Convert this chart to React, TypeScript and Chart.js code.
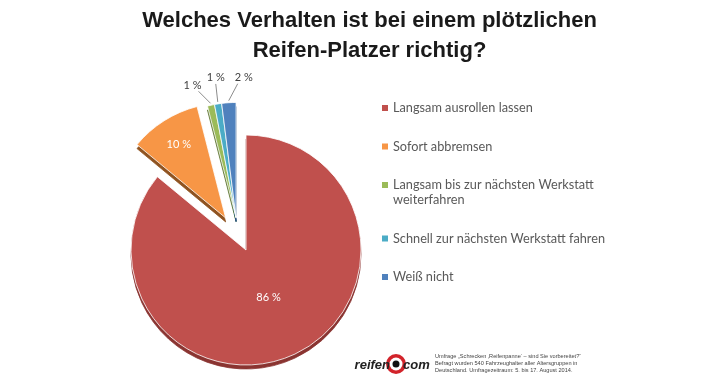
import React, { useEffect, useRef } from "react";
import { Chart, PieController, registerables } from "chart.js";

// ---------- data ----------
const titleLines = ["Welches Verhalten ist bei einem plötzlichen", "Reifen-Platzer richtig?"];
const categories = [
  "Langsam ausrollen lassen",
  "Sofort abbremsen",
  "Langsam bis zur nächsten Werkstatt weiterfahren",
  "Schnell zur nächsten Werkstatt fahren",
  "Weiß nicht",
];
const legendLines = [
  ["Langsam ausrollen lassen"],
  ["Sofort abbremsen"],
  ["Langsam bis zur nächsten Werkstatt", "weiterfahren"],
  ["Schnell zur nächsten Werkstatt fahren"],
  ["Weiß nicht"],
];
const values = [86, 10, 1, 1, 2];
const valueLabels = ["86 %", "10 %", "1 %", "1 %", "2 %"];
const footnoteLines = [
  "Umfrage „Schrecken ‚Reifenpanne‘ – sind Sie vorbereitet?“",
  "Befragt wurden 540 Fahrzeughalter aller Altersgruppen in",
  "Deutschland. Umfragezeitraum: 5. bis 17. August 2014.",
];

// ---------- styles ----------
const colors = ["#c0504d", "#f79646", "#9bbb59", "#4bacc6", "#4f81bd"];
const rimColors = ["#8a3431", "#8f5320", "#5d7530", "#2b7085", "#2d4f80"];
// explode distance and (optional) fixed explode direction in degrees clockwise from 12 o'clock
const explodeDist = [0, 38, 34, 34, 34];
const explodeDir: (number | null)[] = [null, null, -17, -17, -17];
const rimShift = [0, 4];
const insideLabelFrac = [0.46, 0.76, 0, 0, 0];
const outsideLabelShift: (number[] | null)[] = [null, null, [-18, -18], [-2, -24], [15, -23]];

function explodeVec(el: any, i: number) {
  const d = explodeDist[i] || 0;
  const dir = explodeDir[i];
  const a = dir === null || dir === undefined ? (el.startAngle + el.endAngle) / 2 : (dir - 90) * (Math.PI / 180);
  return [Math.cos(a) * d, Math.sin(a) * d];
}

class ExplodedPieController extends PieController {
  static id = "explodedPie";
  draw() {
    const chart = (this as any).chart;
    const ctx = chart.ctx;
    const area = chart.chartArea;
    const els = (this as any)._cachedMeta.data;
    els.forEach((el: any, i: number) => {
      const [dx, dy] = explodeVec(el, i);
      const saved = el.options;
      el.options = { ...saved, backgroundColor: rimColors[i], borderColor: rimColors[i] };
      ctx.save();
      ctx.translate(dx + rimShift[0], dy + rimShift[1]);
      el.draw(ctx, area);
      ctx.restore();
      el.options = saved;
    });
    els.forEach((el: any, i: number) => {
      const [dx, dy] = explodeVec(el, i);
      ctx.save();
      ctx.translate(dx, dy);
      el.draw(ctx, area);
      ctx.restore();
    });
  }
}

Chart.register(...registerables, ExplodedPieController);

const decorPlugin = {
  id: "decor",
  afterDatasetsDraw(chart: any) {
    const ctx = chart.ctx;
    const meta = chart.getDatasetMeta(0);
    meta.data.forEach((el: any, i: number) => {
      const h = (el.startAngle + el.endAngle) / 2;
      const [dx, dy] = explodeVec(el, i);
      const cx = el.x + dx;
      const cy = el.y + dy;
      const r = el.outerRadius;
      ctx.save();
      if (insideLabelFrac[i] > 0) {
        ctx.font = "11px Lato";
        ctx.fillStyle = "#ffffff";
        ctx.textAlign = "center";
        ctx.textBaseline = "middle";
        ctx.fillText(valueLabels[i], cx + Math.cos(h) * r * insideLabelFrac[i], cy + Math.sin(h) * r * insideLabelFrac[i]);
      } else if (outsideLabelShift[i]) {
        const ox = cx + Math.cos(h) * (r + 2);
        const oy = cy + Math.sin(h) * (r + 2);
        const s = outsideLabelShift[i] as number[];
        const lx = ox + s[0];
        const ly = oy + s[1];
        ctx.strokeStyle = "#8c8c8c";
        ctx.lineWidth = 1;
        ctx.beginPath();
        ctx.moveTo(ox, oy);
        ctx.lineTo(lx + (s[0] < -10 ? 6 : s[0] > 10 ? -6 : 0), ly + 6);
        ctx.stroke();
        ctx.font = "11px Lato";
        ctx.fillStyle = "#404040";
        ctx.textAlign = "center";
        ctx.textBaseline = "middle";
        ctx.fillText(valueLabels[i], lx, ly);
      }
      ctx.restore();
    });
  },
  afterDraw(chart: any) {
    const ctx = chart.ctx;
    ctx.save();
    // title
    ctx.fillStyle = "#1a1a1a";
    ctx.textAlign = "center";
    ctx.textBaseline = "alphabetic";
    ctx.font = "bold 20px 'Liberation Sans', Arial, sans-serif";
    const w0 = ctx.measureText(titleLines[0]).width;
    const ts = Math.min(24, (20 * 455) / w0);
    ctx.font = `bold ${ts.toFixed(2)}px 'Liberation Sans', Arial, sans-serif`;
    ctx.fillText(titleLines[0], 369.5, 27);
    ctx.fillText(titleLines[1], 369.5, 57);

    // legend
    ctx.font = "13px Lato";
    const lw = ctx.measureText(legendLines[3][0]).width;
    const ls = (13 * 212) / lw;
    ctx.font = `${ls.toFixed(2)}px Lato`;
    ctx.textAlign = "left";
    ctx.textBaseline = "middle";
    let y = 108;
    legendLines.forEach((lines, i) => {
      ctx.fillStyle = colors[i];
      ctx.fillRect(382, y - 3, 6, 6);
      ctx.fillStyle = "#595959";
      lines.forEach((t, k) => {
        ctx.fillText(t, 393, y + k * 15);
      });
      y += (lines.length - 1) * 15 + 38.5;
    });

    // logo
    const lcx = 396, lcy = 364;
    ctx.fillStyle = "#d2232a";
    ctx.beginPath(); ctx.arc(lcx, lcy, 10, 0, Math.PI * 2); ctx.fill();
    ctx.fillStyle = "#ffffff";
    ctx.beginPath(); ctx.arc(lcx, lcy, 6.5, 0, Math.PI * 2); ctx.fill();
    ctx.fillStyle = "#111111";
    ctx.beginPath(); ctx.arc(lcx, lcy, 3.5, 0, Math.PI * 2); ctx.fill();
    ctx.font = "italic bold 13px 'Liberation Sans', Arial, sans-serif";
    ctx.textBaseline = "alphabetic";
    ctx.textAlign = "right";
    ctx.fillStyle = "#222222";
    ctx.fillText("reifen", 390, 369);
    ctx.textAlign = "left";
    ctx.fillText("com", 403, 369);

    // footnote
    ctx.font = "5.6px 'Liberation Sans', Arial, sans-serif";
    ctx.fillStyle = "#444444";
    ctx.textBaseline = "middle";
    footnoteLines.forEach((t, k) => ctx.fillText(t, 435, 356 + k * 7));
    ctx.restore();
  },
};

export default function App() {
  const ref = useRef<HTMLCanvasElement | null>(null);
  useEffect(() => {
    document.body.style.margin = "0";
    const canvas = ref.current;
    if (!canvas) return;
    const chart = new Chart(canvas, {
      type: "explodedPie" as any,
      data: {
        labels: categories,
        datasets: [
          {
            data: values,
            backgroundColor: colors,
            borderColor: "#ffffff",
            borderWidth: 0.8,
            hoverOffset: 0,
            radius: 115,
          } as any,
        ],
      },
      options: {
        responsive: false,
        animation: false,
        events: [],
        layout: { padding: { left: 0, right: 228, top: 117, bottom: 0 } },
        plugins: {
          legend: { display: false },
          title: { display: false },
          tooltip: { enabled: false },
        },
      } as any,
      plugins: [decorPlugin],
    });
    return () => chart.destroy();
  }, []);
  return (
    <div style={{ width: 720, height: 383, background: "#ffffff" }}>
      <canvas ref={ref} width={720} height={383} style={{ display: "block" }} />
    </div>
  );
}
